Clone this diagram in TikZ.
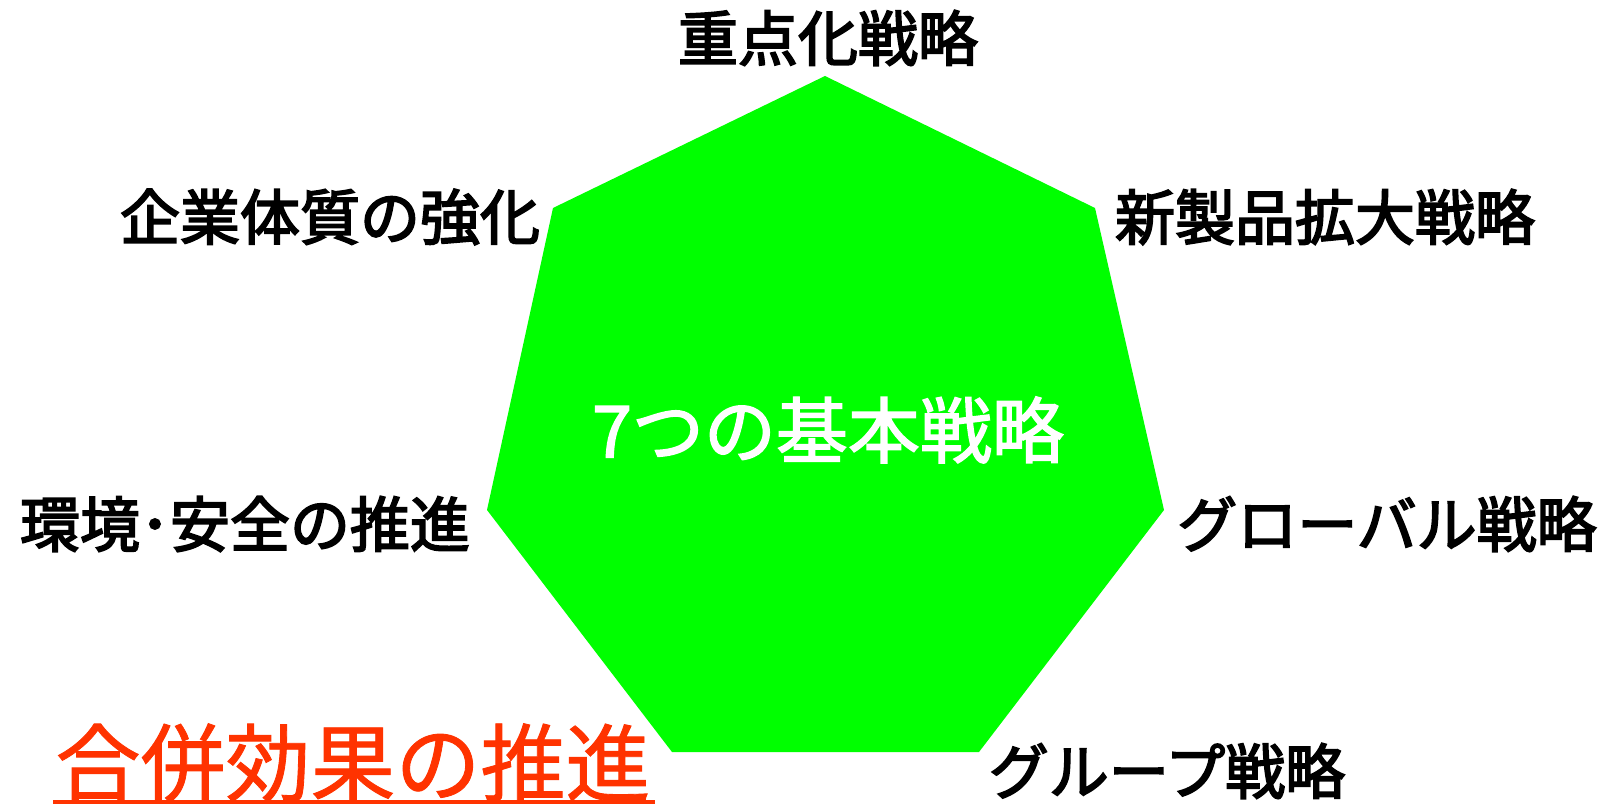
\documentclass[tikz,border=0pt]{standalone}
\usepackage{fontspec}
\newfontfamily\jpblk[FakeBold=3]{Noto Sans CJK JP}
\newfontfamily\jpmid[FakeBold=2]{Noto Sans CJK JP}
\newfontfamily\jplt[FakeBold=1]{Noto Sans CJK JP}
\definecolor{heptgreen}{RGB}{0,255,0}
\definecolor{mergered}{RGB}{255,51,0}
\tikzset{
  lbl/.style={inner sep=0pt, font=\jpblk\fontsize{60}{70}\selectfont, text=black},
  center/.style={inner sep=0pt, font=\jpmid\fontsize{72}{80}\selectfont, text=white},
  merge/.style={inner sep=0pt, font=\jplt\fontsize{85}{95}\selectfont, text=mergered},
}
\begin{document}
\begin{tikzpicture}[x=1pt,y=-1pt]
\useasboundingbox (0,0) rectangle (1604,805);
\fill[white] (0,0) rectangle (1604,805);
\coordinate (vT) at (825,76);
\coordinate (vUR) at (1095,208);
\coordinate (vR) at (1164,510);
\coordinate (vBR) at (979,752);
\coordinate (vBL) at (672,752);
\coordinate (vL) at (487,510);
\coordinate (vUL) at (553,208);
\fill[heptgreen] (vT) -- (vUR) -- (vR) -- (vBR) -- (vBL) -- (vL) -- (vUL) -- cycle;
\node[center] (c) at (828,430) {7つの基本戦略};
\node[lbl] (t1) at (828,38) {重点化戦略};
\node[lbl] (t2) at (1325,217) {新製品拡大戦略};
\node[lbl] (t3) at (1387,524) {グローバル戦略};
\node[lbl] (t4) at (1167,771) {グループ戦略};
\node[lbl] (t5) at (245,524) {環境･安全の推進};
\node[lbl] (t6) at (330,217) {企業体質の強化};
\node[merge] (m) at (353,763) {合併効果の推進};
\coordinate (u1) at (53,802);
\coordinate (u2) at (655,802);
\draw[mergered, line width=4pt] (u1) -- (u2);
\end{tikzpicture}
\end{document}
